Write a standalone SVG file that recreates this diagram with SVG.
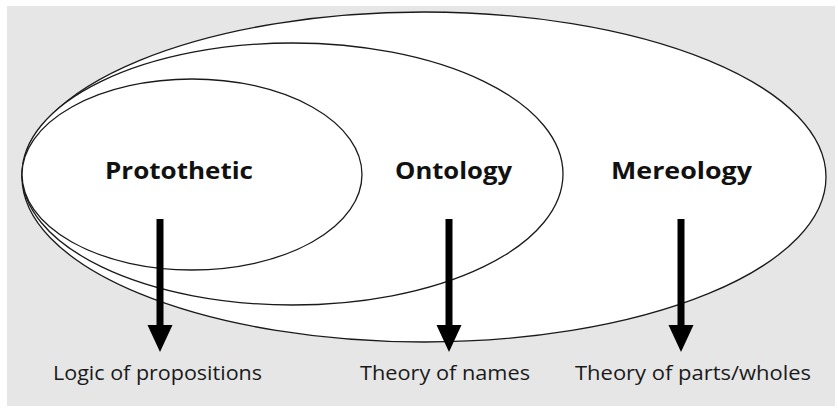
<svg xmlns="http://www.w3.org/2000/svg" width="838" height="412" viewBox="0 0 838 412">
<defs>
<style>
.set{fill:#ffffff;stroke:#1a1a1a;stroke-width:1.3}
.title{font-family:"Open Sans","Liberation Sans",sans-serif;font-weight:bold;font-size:23px;fill:#111;text-anchor:middle}
.label{font-family:"Open Sans","Liberation Sans",sans-serif;font-size:20px;fill:#1a1a1a;text-anchor:middle}
.shaft{stroke:#000;stroke-width:7}
.head{fill:#000}
</style>
</defs>
<rect x="0" y="0" width="838" height="412" fill="#ffffff"/>
<rect x="7" y="6" width="828" height="400" fill="#e6e6e6"/>
<g id="mereology">
<ellipse class="set" cx="424" cy="177" rx="402" ry="165"/>
<text class="title" x="681.5" y="179" textLength="141" lengthAdjust="spacingAndGlyphs">Mereology</text>
</g>
<g id="ontology">
<ellipse class="set" cx="292.5" cy="174" rx="270.5" ry="131"/>
<text class="title" x="453.5" y="179" textLength="117" lengthAdjust="spacingAndGlyphs">Ontology</text>
</g>
<g id="protothetic">
<ellipse class="set" cx="192" cy="174.5" rx="170" ry="95.5"/>
<text class="title" x="179" y="179" textLength="148" lengthAdjust="spacingAndGlyphs">Protothetic</text>
</g>
<g id="connectors">
<line class="shaft" x1="160" y1="219" x2="160" y2="328"/>
<polygon class="head" points="147.5,325 172.5,325 160,352"/>
<line class="shaft" x1="449" y1="219" x2="449" y2="328"/>
<polygon class="head" points="436.5,325 461.5,325 449,352"/>
<line class="shaft" x1="681" y1="219" x2="681" y2="328"/>
<polygon class="head" points="668.5,325 693.5,325 681,352"/>
</g>
<g id="label-logic">
<text class="label" x="157.5" y="380" textLength="209" lengthAdjust="spacingAndGlyphs">Logic of propositions</text>
</g>
<g id="label-names">
<text class="label" x="445" y="380" textLength="170" lengthAdjust="spacingAndGlyphs">Theory of names</text>
</g>
<g id="label-parts">
<text class="label" x="693" y="380" textLength="236" lengthAdjust="spacingAndGlyphs">Theory of parts/wholes</text>
</g>
</svg>
